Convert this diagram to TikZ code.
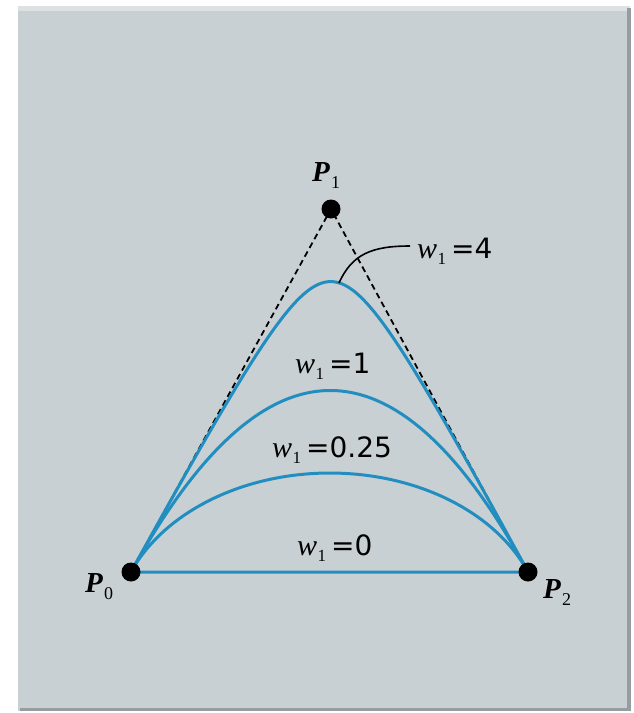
\documentclass[tikz,border=0pt]{standalone}
\usepackage{fontspec}
\setmainfont{Liberation Serif}
\newfontfamily\numfont{DejaVu Sans}
\definecolor{panel}{RGB}{201,208,211}
\definecolor{paneltop}{RGB}{222,225,226}
\definecolor{paneledge}{RGB}{150,156,160}
\definecolor{curveblue}{RGB}{34,142,192}
\newcommand\wl[1]{\fontsize{30}{30}\selectfont\textit{w}\kern0.5pt\raisebox{-6pt}{\fontsize{17}{17}\selectfont 1}\kern5pt{\numfont\fontsize{28}{28}\selectfont =#1}}
\newcommand\pl[1]{\fontsize{29}{29}\selectfont\textbf{\textit{P}}\kern1pt\raisebox{-7pt}{\fontsize{18}{18}\selectfont #1}}
\begin{document}
\begin{tikzpicture}[x=1pt,y=-1pt,
  curve/.style={draw=curveblue,line width=3pt},
  dashline/.style={draw=black,line width=1.8pt,dash pattern=on 6pt off 4pt},
  dot/.style={circle,fill=black,inner sep=0pt,minimum size=19pt},
  lbl/.style={anchor=base west,inner sep=0pt},
  leader/.style={draw=black,line width=1.6pt}]
\useasboundingbox (0,0) rectangle (633,713);
\fill[white] (0,0) rectangle (633,713);
\fill[panel] (18,6) rectangle (630,711);
\fill[paneltop] (18,6) rectangle (630,11);
\fill[paneledge] (627,8) rectangle (631,711);
\fill[paneledge] (20,708) rectangle (631,711);
% control points
\coordinate (c0) at (131,572);
\coordinate (c1) at (331,209);
\coordinate (c2) at (528,572);
\draw[dashline] (c0) -- (c1) -- (c2);
\foreach \w in {0,0.375,1,4}{
  \draw[curve] plot[domain=0:1,samples=140,variable=\t]
   ({((1-\t)^2*131+2*\w*\t*(1-\t)*331+\t^2*528)/((1-\t)^2+2*\w*\t*(1-\t)+\t^2)},
    {((1-\t)^2*572+2*\w*\t*(1-\t)*209+\t^2*572)/((1-\t)^2+2*\w*\t*(1-\t)+\t^2)});
}
\node[dot] (P0) at (c0) {};
\node[dot] (P1) at (c1) {};
\node[dot] (P2) at (c2) {};
\coordinate (lead) at (339,283);
\coordinate (leadend) at (410,246);
\draw[leader] (lead) .. controls (352,254) and (372,246) .. (leadend);
\node[lbl] (L4) at (417,258) {\wl{4}};
\node[lbl] (L1) at (295,373) {\wl{1}};
\node[lbl] (L025) at (272,457) {\wl{0.25}};
\node[lbl] (L0) at (297,555) {\wl{0}};
\node[lbl] (T1) at (312,181) {\pl{1}};
\node[lbl] (T0) at (85,592) {\pl{0}};
\node[lbl] (T2) at (543,598) {\pl{2}};
\end{tikzpicture}
\end{document}
